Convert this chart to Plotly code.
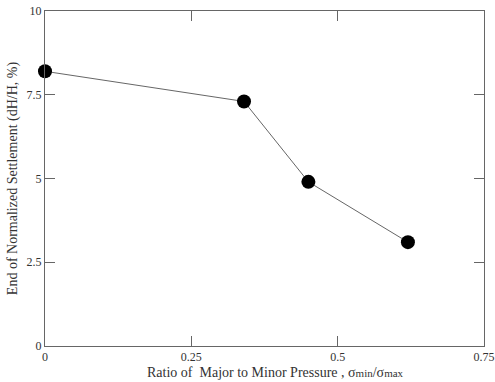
import plotly.graph_objects as go

ratio = [0.0, 0.34, 0.45, 0.62]
settlement = [8.2, 7.3, 4.9, 3.1]
x_ticks = [0, 0.25, 0.5, 0.75]
x_tick_labels = ["0", "0.25", "0.5", "0.75"]
y_ticks = [0, 2.5, 5, 7.5, 10]
y_tick_labels = ["0", "2.5", "5", "7.5", "10"]

fig = go.Figure()
fig.add_trace(go.Scatter(
    x=ratio, y=settlement, mode="lines+markers",
    line=dict(color="#666666", width=1),
    marker=dict(color="black", size=14),
    showlegend=False, cliponaxis=False,
))

font = "Liberation Serif, Times New Roman, serif"
axis_common = dict(
    showgrid=False, zeroline=False, showline=True, linecolor="#666666", linewidth=1,
    mirror="ticks", ticks="inside", ticklen=10, tickcolor="#666666", tickwidth=1,
    tickfont=dict(family=font, size=12, color="#333333"), automargin=False,
)
fig.update_xaxes(range=[0, 0.75], tickvals=x_ticks, ticktext=x_tick_labels, **axis_common)
fig.update_yaxes(range=[0, 10], tickvals=y_ticks, ticktext=y_tick_labels,
                 title=dict(text="End of Normalized Settlement (dH/H, %)",
                            font=dict(family=font, size=14, color="#333333"), standoff=5),
                 **axis_common)
fig.add_annotation(
    text="Ratio of  Major to Minor Pressure , σ<span style='font-size:11px'>min</span>/σ<span style='font-size:11px'>max</span>",
    xref="paper", yref="paper", x=0.5, y=0, xanchor="center", yanchor="middle",
    xshift=11, yshift=-26, showarrow=False,
    font=dict(family=font, size=14, color="#333333"),
)
fig.update_layout(
    width=495, height=382,
    margin=dict(l=45, r=11, t=11, b=36),
    plot_bgcolor="white", paper_bgcolor="white",
)
fig.write_html("out.html")
